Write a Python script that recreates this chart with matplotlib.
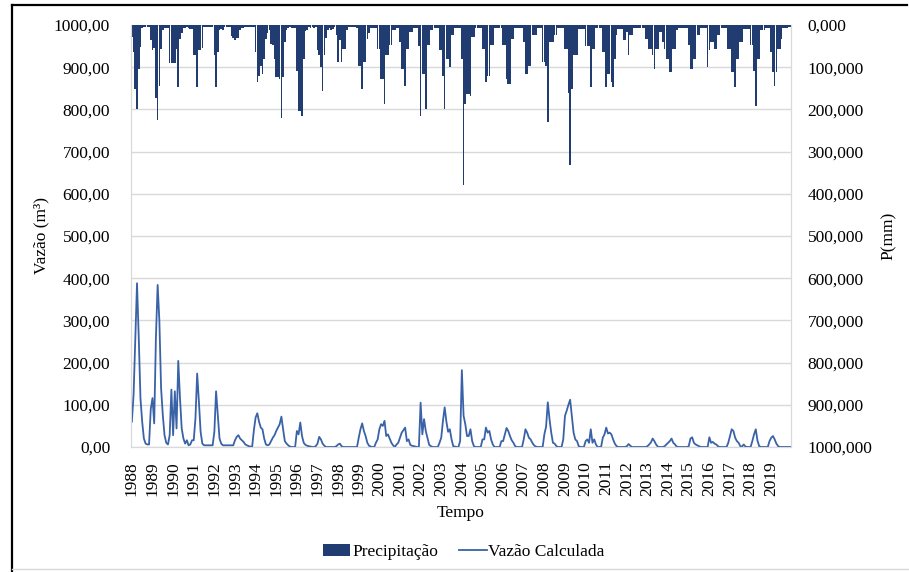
import matplotlib
matplotlib.use("Agg")
import matplotlib.pyplot as plt
from matplotlib.lines import Line2D
from matplotlib.patches import Patch
import numpy as np

plt.rcParams["font.family"] = ["Liberation Serif", "DejaVu Serif"]

# ---------------------------------------------------------------------------
# Dados mensais (jan/1988 a dez/2019)
# ---------------------------------------------------------------------------

anos = list(range(1988, 2020))

# precipitação mensal (mm), 12 valores por ano
precipitacao = [
    28, 64, 152, 198, 104, 52, 8, 4, 4, 4, 5, 36,          # 1988
    60, 55, 172, 226, 144, 56, 12, 6, 6, 6, 90, 90,        # 1989
    90, 90, 56, 146, 32, 20, 8, 8, 5, 6, 10, 10,           # 1990
    72, 72, 148, 60, 60, 55, 5, 5, 5, 5, 5, 5,             # 1991
    72, 146, 64, 12, 10, 12, 4, 4, 4, 4, 25, 30,           # 1992
    36, 30, 30, 12, 8, 8, 4, 4, 4, 4, 4, 4,                # 1993
    64, 136, 120, 96, 116, 80, 32, 20, 12, 45, 48, 80,     # 1994
    124, 124, 128, 220, 124, 40, 12, 6, 4, 6, 8, 6,        # 1995
    108, 204, 204, 216, 80, 15, 12, 5, 8, 5, 8, 5,         # 1996
    60, 72, 100, 156, 72, 30, 12, 8, 12, 10, 5, 24,        # 1997
    88, 36, 88, 56, 56, 12, 4, 4, 4, 4, 4, 8,              # 1998
    96, 96, 152, 88, 88, 32, 20, 8, 8, 6, 8, 56,           # 1999
    56, 128, 128, 188, 72, 72, 48, 48, 12, 12, 8, 8,       # 2000
    40, 104, 104, 144, 56, 56, 16, 16, 8, 8, 8, 50,        # 2001
    216, 116, 116, 200, 48, 48, 12, 12, 8, 8, 8, 60,       # 2002
    60, 120, 200, 80, 80, 100, 24, 24, 6, 6, 6, 6,         # 2003
    80, 380, 188, 164, 164, 168, 28, 28, 8, 8, 8, 8,       # 2004
    56, 56, 136, 120, 120, 48, 48, 8, 8, 8, 8, 8,          # 2005
    48, 48, 128, 140, 140, 32, 32, 6, 6, 6, 6, 6,          # 2006
    40, 116, 116, 96, 96, 24, 24, 24, 8, 8, 8, 88,         # 2007
    88, 96, 230, 40, 40, 40, 24, 24, 8, 8, 8, 8,           # 2008
    56, 56, 160, 332, 152, 72, 72, 72, 10, 10, 10, 10,     # 2009
    50, 50, 50, 148, 56, 56, 8, 8, 8, 8, 64, 64,           # 2010
    148, 116, 116, 136, 148, 80, 24, 10, 10, 10, 36, 36,   # 2011
    16, 72, 24, 24, 6, 6, 6, 6, 6, 6, 6, 32,               # 2012
    32, 56, 56, 70, 104, 56, 56, 16, 16, 40, 56, 80,       # 2013
    80, 112, 112, 56, 56, 12, 8, 8, 8, 8, 8, 8,            # 2014
    48, 104, 104, 80, 80, 24, 24, 8, 8, 8, 8, 100,         # 2015
    60, 40, 40, 56, 56, 24, 24, 8, 8, 8, 8, 56,            # 2016
    56, 112, 112, 148, 80, 80, 40, 40, 10, 10, 10, 10,     # 2017
    48, 48, 108, 192, 80, 80, 12, 12, 12, 8, 8, 8,         # 2018
    64, 112, 144, 112, 56, 56, 32, 8, 8, 8, 5, 5,          # 2019
]

# vazão calculada mensal (m³), 12 valores por ano
vazao = [
    60, 124, 260, 388, 260, 116, 60, 20, 8, 6, 6, 90,      # 1988
    116, 56, 260, 384, 300, 140, 76, 28, 10, 6, 28, 136,   # 1989
    28, 132, 44, 204, 116, 44, 20, 8, 16, 4, 6, 16,        # 1990
    16, 68, 174, 108, 36, 8, 4, 4, 4, 4, 4, 4,             # 1991
    36, 132, 76, 20, 8, 4, 4, 4, 4, 4, 4, 4,               # 1992
    16, 24, 28, 20, 16, 12, 6, 4, 2, 1, 1, 40,             # 1993
    70, 80, 60, 46, 42, 20, 6, 4, 6, 14, 22, 28,           # 1994
    38, 46, 54, 72, 42, 14, 8, 4, 1, 0, 0, 0,              # 1995
    38, 30, 58, 26, 10, 5, 3, 2, 1, 0, 0, 2,               # 1996
    8, 24, 18, 8, 3, 0, 0, 0, 0, 0, 0, 2,                  # 1997
    6, 8, 2, 0, 0, 0, 0, 0, 0, 0, 0, 0,                    # 1998
    22, 42, 56, 38, 26, 10, 3, 1, 0, 0, 10, 18,            # 1999
    42, 54, 50, 62, 26, 30, 20, 10, 4, 0, 6, 10,           # 2000
    22, 34, 40, 46, 14, 18, 5, 3, 2, 1, 0, 0,              # 2001
    105, 30, 66, 38, 22, 5, 2, 0, 0, 0, 0, 10,             # 2002
    22, 62, 94, 60, 36, 42, 18, 2, 1, 0, 0, 14,            # 2003
    182, 74, 54, 26, 26, 42, 14, 2, 0, 0, 0, 0,            # 2004
    18, 18, 46, 34, 38, 18, 6, 0, 0, 0, 0, 14,             # 2005
    14, 30, 45, 38, 26, 16, 10, 2, 0, 0, 0, 0,             # 2006
    18, 42, 34, 22, 18, 10, 4, 1, 0, 0, 0, 0,              # 2007
    30, 48, 106, 66, 34, 10, 8, 2, 0, 0, 0, 18,            # 2008
    74, 86, 100, 112, 74, 34, 18, 14, 2, 0, 0, 0,          # 2009
    14, 18, 10, 42, 10, 18, 6, 0, 0, 0, 22, 30,            # 2010
    46, 32, 34, 30, 18, 8, 2, 0, 0, 0, 0, 0,               # 2011
    2, 7, 3, 0, 0, 0, 0, 0, 0, 0, 0, 0,                    # 2012
    2, 6, 11, 20, 14, 6, 1, 0, 0, 0, 2, 6,                 # 2013
    10, 14, 20, 10, 6, 1, 0, 0, 0, 0, 0, 0,                # 2014
    2, 20, 23, 10, 6, 4, 2, 0, 0, 0, 0, 0,                 # 2015
    23, 10, 12, 8, 6, 2, 0, 0, 0, 0, 0, 10,                # 2016
    26, 42, 38, 22, 14, 10, 2, 1, 6, 1, 0, 0,              # 2017
    0, 14, 30, 42, 15, 2, 0, 0, 0, 0, 0, 14,               # 2018
    22, 26, 18, 8, 2, 0, 0, 0, 0, 0, 0, 0,                 # 2019
]

COR_BARRA = "#203C70"
COR_LINHA = "#3A62A7"
COR_GRADE = "#D9D9D9"
TAM_FONTE = 12.5


def fmt_virgula(valor, casas):
    return f"{valor:.{casas}f}".replace(".", ",")


meses = np.arange(len(vazao))

fig = plt.figure(figsize=(9.09, 5.72), dpi=100)
ax = fig.add_axes([131 / 909, 1 - 447 / 572, 660 / 909, 422 / 572])

# eixo principal: vazão
ax.plot(meses, vazao, color=COR_LINHA, lw=1.3, zorder=3)
ax.set_xlim(-0.5, len(vazao) - 0.5)
ax.set_ylim(0, 1000)
ax.set_yticks(np.arange(0, 1001, 100))
ax.set_yticklabels([fmt_virgula(v, 2) for v in range(0, 1001, 100)], fontsize=TAM_FONTE)
ax.grid(axis="y", color=COR_GRADE, lw=1)
ax.set_axisbelow(True)
ax.set_xticks(np.arange(0, len(vazao), 12))
ax.set_xticklabels([str(a) for a in anos], rotation=90, fontsize=TAM_FONTE)
ax.tick_params(axis="both", length=0)
ax.tick_params(axis="x", pad=10)
ax.tick_params(axis="y", pad=15)
ax.set_ylabel("Vazão (m³)", fontsize=TAM_FONTE, labelpad=3)
ax.set_xlabel("Tempo", fontsize=TAM_FONTE, labelpad=7)

# eixo secundário invertido: precipitação
ax2 = ax.twinx()
ax2.bar(meses, precipitacao, width=0.95, color=COR_BARRA, linewidth=0)
ax2.set_ylim(1000, 0)
ax2.set_yticks(np.arange(0, 1001, 100))
ax2.set_yticklabels([fmt_virgula(v, 3) for v in range(0, 1001, 100)], fontsize=TAM_FONTE)
ax2.tick_params(axis="y", length=0, pad=12)
ax2.set_ylabel("P(mm)", fontsize=TAM_FONTE, rotation=90, labelpad=6)

for a in (ax, ax2):
    for lado in ("left", "right", "bottom"):
        a.spines[lado].set_color(COR_GRADE)
    a.spines["top"].set_visible(False)

# legenda abaixo
alcas = [
    Patch(facecolor=COR_BARRA, edgecolor="none"),
    Line2D([0], [0], color=COR_LINHA, lw=1.3),
]
fig.legend(alcas, ["Precipitação", "Vazão Calculada"], loc="center",
           bbox_to_anchor=(0.51, 1 - 552 / 572), ncol=2, frameon=False,
           fontsize=TAM_FONTE, handlelength=1.6, handletextpad=0.1, columnspacing=1.2)

# moldura da figura
fig.add_artist(Line2D([12 / 909, 907 / 909], [1 - 5 / 572, 1 - 5 / 572],
                      color="black", lw=1.6, transform=fig.transFigure))
fig.add_artist(Line2D([12 / 909, 12 / 909], [1 - 5 / 572, 0],
                      color="black", lw=1.6, transform=fig.transFigure))
fig.add_artist(Line2D([12 / 909, 1], [1 - 569 / 572, 1 - 569 / 572],
                      color=COR_GRADE, lw=1, transform=fig.transFigure))

fig.savefig("out.png", dpi=100)
